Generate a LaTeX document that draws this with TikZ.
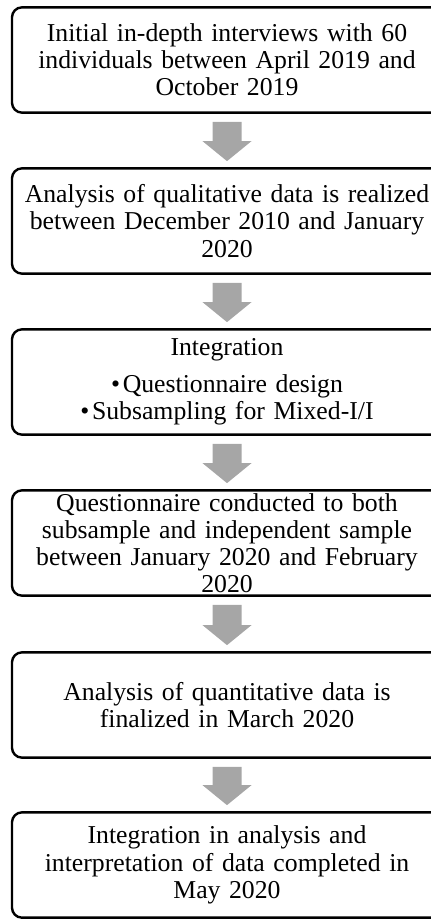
\documentclass[tikz,border=0pt]{standalone}
\usepackage{fontspec}
\setmainfont{Liberation Serif}
\usepackage{tikz}
\usetikzlibrary{calc}
\definecolor{ArrowGray}{HTML}{A6A6A6}

\begin{document}
\begin{tikzpicture}[x=0.75pt,y=-0.75pt,
  stage/.style={rectangle,rounded corners=7.5pt,draw=black,fill=white,
    line width=1.8pt,minimum width=322.5pt,minimum height=79pt,
    text width=318pt,align=center,inner sep=0pt,
    font=\fontsize{19.3pt}{20.4pt}\selectfont}]
  \useasboundingbox (0,0) rectangle (431,919);
  \node[stage] (s1) at (227,60)
    {Initial in-depth interviews with 60\\individuals between April 2019 and\\October 2019};
  \node[stage] (s2) at (227,221)
    {Analysis of qualitative data is realized\\between December 2010 and January\\2020};
  \node[stage] (s3) at (227,382)
    {Integration\\[7.5pt]\textbullet\hspace{2pt}Questionnaire design\\\textbullet\hspace{2pt}Subsampling for Mixed-I/I};
  \node[stage] (s4) at (227,543)
    {Questionnaire conducted to both\\subsample and independent sample\\between January 2020 and February\\2020};
  \node[stage] (s5) at (227,705)
    {Analysis of quantitative data is\\finalized in March 2020};
  \node[stage] (s6) at (227,865)
    {Integration in analysis and\\interpretation of data completed in\\May 2020};
  % block arrows between the stages
  \foreach \a/\b in {s1/s2,s2/s3,s3/s4,s4/s5,s5/s6}
    \fill[ArrowGray] ($(\a.south)+(-14.5,8)$) -- ($(\a.south)+(14.5,8)$)
      -- ($(\b.north)+(14.5,-26)$) -- ($(\b.north)+(24.5,-26)$)
      -- ($(\b.north)+(0,-6)$) -- ($(\b.north)+(-24.5,-26)$)
      -- ($(\b.north)+(-14.5,-26)$) -- cycle;
\end{tikzpicture}
\end{document}
